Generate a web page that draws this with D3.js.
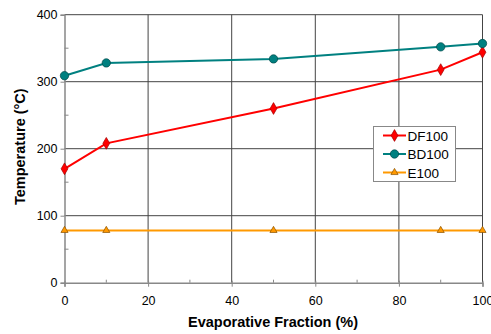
<!DOCTYPE html>
<html><head><meta charset="utf-8">
<script src="https://cdn.jsdelivr.net/npm/d3@7"></script>
<style>body{margin:0;background:#fff}svg{display:block}text{font-family:"Liberation Sans",Arial,sans-serif}</style>
</head><body>
<script>
const xValues = [0, 10, 50, 90, 100];
const df100 = [170, 208, 260, 318, 344];
const bd100 = [309, 328, 334, 352, 357];
const e100 = [78, 78, 78, 78, 78];
const xTicks = [0, 20, 40, 60, 80, 100];
const yTicks = [0, 100, 200, 300, 400];
const seriesNames = ["DF100", "BD100", "E100"];

const W = 491, H = 334;
const svg = d3.select("body").append("svg").attr("width", W).attr("height", H);
const x = d3.scaleLinear().domain([0, 100]).range([64.5, 482.5]);
const y = d3.scaleLinear().domain([0, 400]).range([282.7, 14.7]);

// gridlines
svg.append("g").selectAll("line").data(yTicks.filter(d => d > 0)).join("line")
  .attr("x1", x(0)).attr("x2", x(100)).attr("y1", d => y(d)).attr("y2", d => y(d))
  .attr("stroke", "#444").attr("stroke-width", 1);
svg.append("g").selectAll("line").data(xTicks.filter(d => d > 0)).join("line")
  .attr("y1", y(0)).attr("y2", y(400)).attr("x1", d => x(d)).attr("x2", d => x(d))
  .attr("stroke", "#444").attr("stroke-width", 1);

// axes
const yAxis = svg.append("g").attr("transform", `translate(${x(0)},0)`)
  .call(d3.axisLeft(y).tickValues(yTicks).tickSize(4).tickPadding(3));
const xAxis = svg.append("g").attr("transform", `translate(0,${y(0)})`)
  .call(d3.axisBottom(x).tickValues(xTicks).tickSize(4).tickPadding(9));
[yAxis, xAxis].forEach(a => {
  a.select(".domain").attr("stroke", "#888").attr("stroke-width", 1.5);
  a.selectAll(".tick line").attr("stroke", "#888");
  a.selectAll("text").attr("font-size", 12.5).attr("fill", "#000")
    .attr("font-family", '"Liberation Sans",Arial,sans-serif');
});
xAxis.selectAll(".tick line").attr("y1", -2);
// minor ticks
svg.append("g").selectAll("line").data([50, 150, 250, 350]).join("line")
  .attr("x1", x(0)).attr("x2", x(0) + 4).attr("y1", d => y(d)).attr("y2", d => y(d)).attr("stroke", "#888");
svg.append("g").selectAll("line").data([10, 30, 50, 70, 90]).join("line")
  .attr("x1", d => x(d)).attr("x2", d => x(d)).attr("y1", y(0)).attr("y2", y(0) - 3).attr("stroke", "#888");

// axis titles
svg.append("text").attr("x", 273).attr("y", 327).attr("text-anchor", "middle")
  .attr("font-size", 14.5).attr("font-weight", "bold").text("Evaporative Fraction (%)");
svg.append("text").attr("transform", `translate(25,${y(200) - 2}) rotate(-90)`).attr("text-anchor", "middle")
  .attr("font-size", 14.5).attr("font-weight", "bold").text("Temperature  (°C)");

const series = [
  {name: seriesNames[0], vals: df100, color: "#ff0000", stroke: "#a00000", sym: d3.symbolDiamond, size: 40},
  {name: seriesNames[1], vals: bd100, color: "#008080", stroke: "#004848", sym: d3.symbolCircle, size: 55},
  {name: seriesNames[2], vals: e100, color: "#ff9900", stroke: "#8a5200", sym: d3.symbolTriangle, size: 22}
];
const line = d3.line().x((d, i) => x(xValues[i])).y(d => y(d));
series.forEach(s => {
  svg.append("path").datum(s.vals).attr("d", line).attr("fill", "none")
    .attr("stroke", s.color).attr("stroke-width", 2);
  svg.append("g").selectAll("path").data(s.vals).join("path")
    .attr("d", d3.symbol().type(s.sym).size(s.size))
    .attr("transform", (d, i) => `translate(${x(xValues[i])},${y(d)})`)
    .attr("fill", s.color).attr("stroke", s.stroke).attr("stroke-width", 0.7);
});

// legend
const lg = svg.append("g");
lg.append("rect").attr("x", 373.5).attr("y", 126.5).attr("width", 82).attr("height", 55)
  .attr("fill", "#fff").attr("stroke", "#888");
series.forEach((s, i) => {
  const yy = 135.5 + i * 18.5;
  lg.append("line").attr("x1", 383).attr("x2", 406).attr("y1", yy).attr("y2", yy)
    .attr("stroke", s.color).attr("stroke-width", 2);
  lg.append("path").attr("d", d3.symbol().type(s.sym).size(s.size))
    .attr("transform", `translate(394.5,${yy})`).attr("fill", s.color)
    .attr("stroke", s.stroke).attr("stroke-width", 0.7);
  lg.append("text").attr("x", 407.5).attr("y", yy + 5).attr("font-size", 13.5).text(s.name);
});
</script>
</body></html>
